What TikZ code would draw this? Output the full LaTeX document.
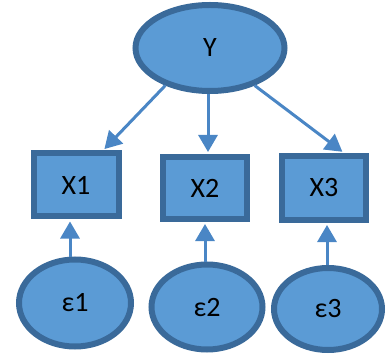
\documentclass[tikz,border=0pt]{standalone}
\usepackage{fontspec}
\setmainfont{Carlito}
\usetikzlibrary{shapes.geometric,arrows.meta}
\definecolor{nodefill}{HTML}{5B9BD5}
\definecolor{nodeline}{HTML}{3A6A9A}
\definecolor{arrowc}{HTML}{4A86C5}
\newcommand{\bigtxt}{\fontsize{28}{32}\selectfont}
\tikzset{
  oval/.style={ellipse, draw=nodeline, fill=nodefill, line width=6pt, inner sep=0pt, font=\bigtxt},
  obsbox/.style={rectangle, draw=nodeline, fill=nodefill, line width=6pt, inner sep=0pt, font=\bigtxt},
  conn/.style={draw=arrowc, line width=3pt, -{Triangle[length=17pt,width=19pt]}, shorten >=2pt}
}
\begin{document}
\begin{tikzpicture}[x=1pt,y=1pt]
\useasboundingbox (0,0) rectangle (390,356);
\node[oval, minimum width=149pt, minimum height=86pt] (Y) at (210,308) {Y};
\node[obsbox, minimum width=85pt, minimum height=63pt] (X1) at (76,171) {X1};
\node[obsbox, minimum width=84pt, minimum height=62pt] (X2) at (205,168) {X2};
\node[obsbox, minimum width=84pt, minimum height=64pt] (X3) at (324,168) {X3};
\node[oval, minimum width=112pt, minimum height=87pt] (e1) at (75,53) {ε1};
\node[oval, minimum width=111pt, minimum height=85pt] (e2) at (207,49) {ε2};
\node[oval, minimum width=108pt, minimum height=82pt] (e3) at (328,47) {ε3};
\draw[conn] (Y.-140) -- (X1.north east -| 103,0);
\draw[conn] (Y.south -| 208,0) -- (X2.north -| 208,0);
\draw[conn] (Y.-40) -- (X3.north -| 344,0);
\draw[conn] (e1.north -| 70,0) -- (X1.south -| 70,0);
\draw[conn] (e2.north -| 205,0) -- (X2.south -| 205,0);
\draw[conn] (e3.north -| 327,0) -- (X3.south -| 327,0);
\end{tikzpicture}
\end{document}
